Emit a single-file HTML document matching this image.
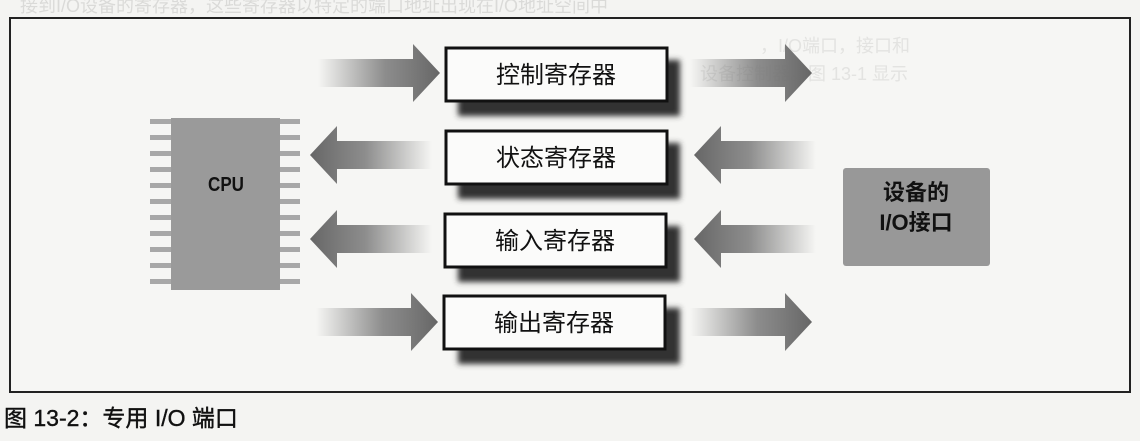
<!DOCTYPE html>
<html><head><meta charset="utf-8"><style>
html,body{margin:0;padding:0;background:#f4f4f2;}
svg{display:block}
text{font-family:"Liberation Sans","Noto Sans CJK SC",sans-serif;}
</style></head><body>
<svg width="1140" height="441" viewBox="0 0 1140 441" xmlns="http://www.w3.org/2000/svg">
<defs>
<linearGradient id="gr" x1="0" x2="1" y1="0" y2="0"><stop offset="0" stop-color="#777" stop-opacity="0"/><stop offset="0.55" stop-color="#7a7a7a" stop-opacity="0.85"/><stop offset="1" stop-color="#666"/></linearGradient>
<filter id="bl" x="-10%" y="-30%" width="120%" height="160%"><feGaussianBlur stdDeviation="3"/></filter>
<g id="ar"><polygon points="0,-14 95,-14 95,-29 122,0 95,29 95,14 0,14"/></g>
</defs>
<rect x="0" y="0" width="1140" height="441" fill="#f4f4f2"/>
<rect x="10" y="18" width="1120" height="374" fill="#f6f6f4" stroke="#222" stroke-width="2"/>
<text x="20" y="12" font-size="18" fill="#dadad8">接到I/O设备的寄存器，这些寄存器以特定的端口地址出现在I/O地址空间中</text>
<text x="760" y="52" font-size="18" fill="#e3e3e1">，I/O端口，接口和</text>
<text x="700" y="80" font-size="18" fill="#e3e3e1">设备控制器。图 13-1 显示</text>
<g fill="url(#gr)"><use href="#ar" x="318" y="73"/><use href="#ar" x="690" y="73"/><use href="#ar" x="316" y="322"/><use href="#ar" x="690" y="322"/>
<use href="#ar" transform="translate(432,155) scale(-1,1)"/>
<use href="#ar" transform="translate(432,239) scale(-1,1)"/>
<use href="#ar" transform="translate(816,155) scale(-1,1)"/>
<use href="#ar" transform="translate(816,239) scale(-1,1)"/>
</g>
<g fill="#a8a8a8">
<rect x="150" y="119" width="150" height="5"/><rect x="150" y="135" width="150" height="5"/><rect x="150" y="151" width="150" height="5"/><rect x="150" y="167" width="150" height="5"/><rect x="150" y="183" width="150" height="5"/><rect x="150" y="199" width="150" height="5"/><rect x="150" y="215" width="150" height="5"/><rect x="150" y="231" width="150" height="5"/><rect x="150" y="247" width="150" height="5"/><rect x="150" y="263" width="150" height="5"/><rect x="150" y="279" width="150" height="5"/>
</g>
<rect x="171" y="118" width="109" height="172" fill="#9a9a9a"/>
<text x="226" y="191" font-size="20" font-weight="bold" text-anchor="middle" fill="#111" transform="translate(226,0) scale(0.85,1) translate(-226,0)">CPU</text>
<rect x="843" y="168" width="147" height="98" rx="3" fill="#989898"/>
<text x="916" y="200" font-size="22" font-weight="bold" text-anchor="middle" fill="#111">设备的</text>
<text x="916" y="230" font-size="22" font-weight="bold" text-anchor="middle" fill="#111">I/O接口</text>
<g>
<rect x="458" y="60" width="222" height="56" fill="#333" filter="url(#bl)"/>
<rect x="446" y="48" width="221" height="53" fill="#fbfbfa" stroke="#111" stroke-width="3"/>
<text x="556" y="83" font-size="24" text-anchor="middle" fill="#111">控制寄存器</text>
<rect x="458" y="143" width="222" height="56" fill="#333" filter="url(#bl)"/>
<rect x="446" y="131" width="221" height="53" fill="#fbfbfa" stroke="#111" stroke-width="3"/>
<text x="556" y="166" font-size="24" text-anchor="middle" fill="#111">状态寄存器</text>
<rect x="458" y="226" width="222" height="56" fill="#333" filter="url(#bl)"/>
<rect x="445" y="214" width="221" height="53" fill="#fbfbfa" stroke="#111" stroke-width="3"/>
<text x="555" y="249" font-size="24" text-anchor="middle" fill="#111">输入寄存器</text>
<rect x="458" y="308" width="222" height="56" fill="#333" filter="url(#bl)"/>
<rect x="444" y="296" width="221" height="53" fill="#fbfbfa" stroke="#111" stroke-width="3"/>
<text x="554" y="331" font-size="24" text-anchor="middle" fill="#111">输出寄存器</text>
</g>
<text x="4" y="426" font-size="23" fill="#111" stroke="#111" stroke-width="0.4">图 13-2：专用 I/O 端口</text>
</svg>
</body></html>
